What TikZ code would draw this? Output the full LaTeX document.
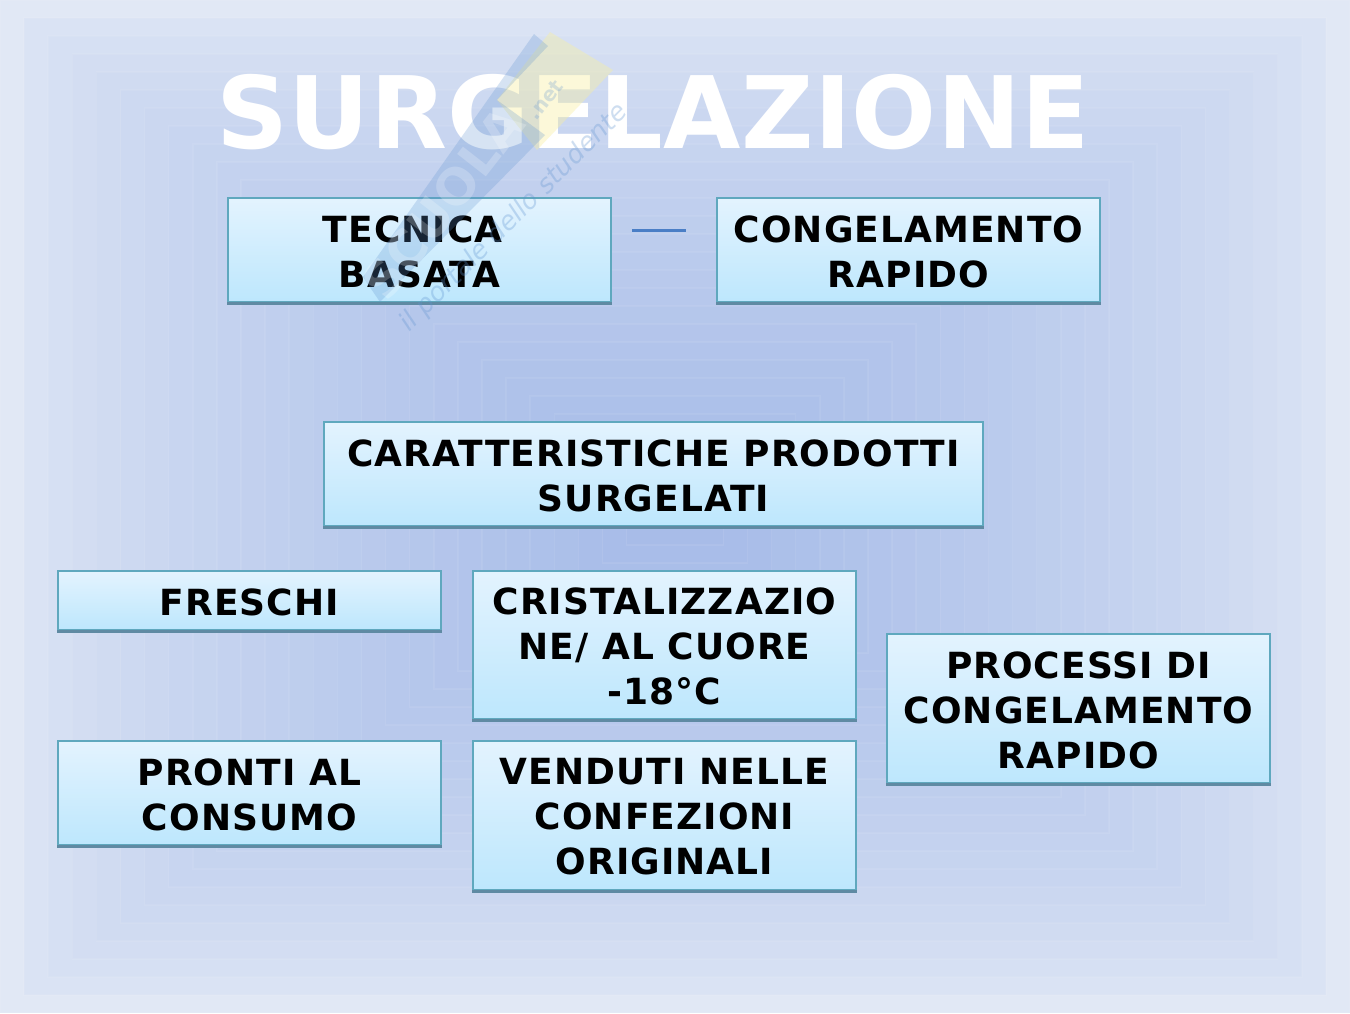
\documentclass[tikz,border=0pt]{standalone}
\usepackage{fontspec}
\setmainfont{DejaVu Sans}
\newfontfamily\boxfont{DejaVu Sans}[LetterSpace=3.0]
\newfontfamily\titlefont{DejaVu Sans}[LetterSpace=0.5]
\newfontfamily\markfont{DejaVu Sans}
\definecolor{bgout}{HTML}{E1E8F5}
\definecolor{bgin}{HTML}{A6BBE8}
\definecolor{boxtop}{HTML}{E3F3FE}
\definecolor{boxbot}{HTML}{BDE7FD}
\definecolor{boxedge}{HTML}{5FA8BE}
\definecolor{boxshadow}{HTML}{5F8AA3}
\definecolor{wmblue}{HTML}{5F93D0}
\definecolor{wmyellow}{HTML}{F8EFA0}
\definecolor{linkblue}{HTML}{4A7EC6}
\tikzset{
  x=1pt,y=-1pt,
  infobox/.style={draw=boxedge,line width=2pt,top color=boxtop,bottom color=boxbot,inner sep=0pt,rectangle},
  boxlabel/.style={align=center,inner sep=0pt,font=\fontsize{36}{45}\selectfont\boxfont\bfseries,text=black},
  titletext/.style={font=\fontsize{100}{110}\selectfont\titlefont\bfseries,text=white,inner sep=0pt},
  linkbar/.style={draw=linkblue,line width=3pt}
}
\newcommand{\ibox}[6]{%
  \node[infobox,minimum width=#4pt-#2pt,minimum height=#5pt-#3pt] (#1) at ({(#2+#4)/2},{(#3+#5)/2}) {};
  \fill[boxshadow] (#2-1,#5-0.5) rectangle (#4+1,#5+2.5);
  \node[boxlabel] (#1t) at ({(#2+#4)/2},{(#3+#5)/2+1.5}) {#6};}
\begin{document}
\begin{tikzpicture}
\useasboundingbox (0,0) rectangle (1350,1013);
\fill[bgout] (0,0) rectangle (1350,1013);
\foreach \i in {0,...,27}{
  \pgfmathsetmacro{\t}{100*pow(\i/27,0.65)}
  \pgfmathsetmacro{\xa}{\i*24.1}
  \pgfmathsetmacro{\ya}{\i*18}
  \fill[bgin!\t!bgout] (\xa,\ya) rectangle (1350-\xa,1013-\ya);
  \draw[white,opacity=0.07,line width=1.5pt] (\xa,\ya) rectangle (1350-\xa,1013-\ya);
}
\node[titletext] (title) at (653,112) {SURGELAZIONE};
\ibox{a}{228}{198}{611}{302}{TECNICA\phantom{I}\\BASATA}
\ibox{b}{717}{198}{1100}{302}{CONGELAMENTO\\RAPIDO}
\ibox{c}{324}{422}{983}{526}{CARATTERISTICHE PRODOTTI\\SURGELATI}
\ibox{d}{58}{571}{441}{630}{FRESCHI}
\ibox{e}{473}{571}{856}{719}{CRISTALIZZAZIO\\NE/ AL CUORE\\-18°C}
\ibox{f}{58}{741}{441}{845}{PRONTI AL\\CONSUMO}
\ibox{g}{473}{741}{856}{890}{VENDUTI NELLE\\CONFEZIONI\\ORIGINALI}
\ibox{h}{887}{634}{1270}{783}{PROCESSI DI\\CONGELAMENTO\\RAPIDO}
\coordinate (linka) at (632,230);
\coordinate (linkb) at (686,230);
\draw[linkbar] (linka) -- (linkb);
% watermark
\fill[wmyellow,opacity=0.4] (550,32) -- (613,70) -- (537,150) -- (497,100) -- cycle;
\fill[wmblue,opacity=0.25] (534,34) -- (363,277) -- (380,302) -- (545,135) -- (497,100) -- (548,46) -- cycle;
\node[text=white,opacity=0.22,rotate=52,inner sep=0pt,font=\fontsize{50}{50}\selectfont\markfont\bfseries] (wmname) at (443,203) {SCUOLA};
\node[text=wmblue,opacity=0.25,rotate=52,inner sep=0pt,font=\fontsize{20}{20}\selectfont\markfont\bfseries] (wmnet) at (545,100) {.net};
\node[text=wmblue,opacity=0.3,rotate=45,inner sep=0pt,font=\fontsize{26}{26}\selectfont\markfont\itshape] (wmtag) at (514,218) {il portale dello studente};
\end{tikzpicture}
\end{document}
